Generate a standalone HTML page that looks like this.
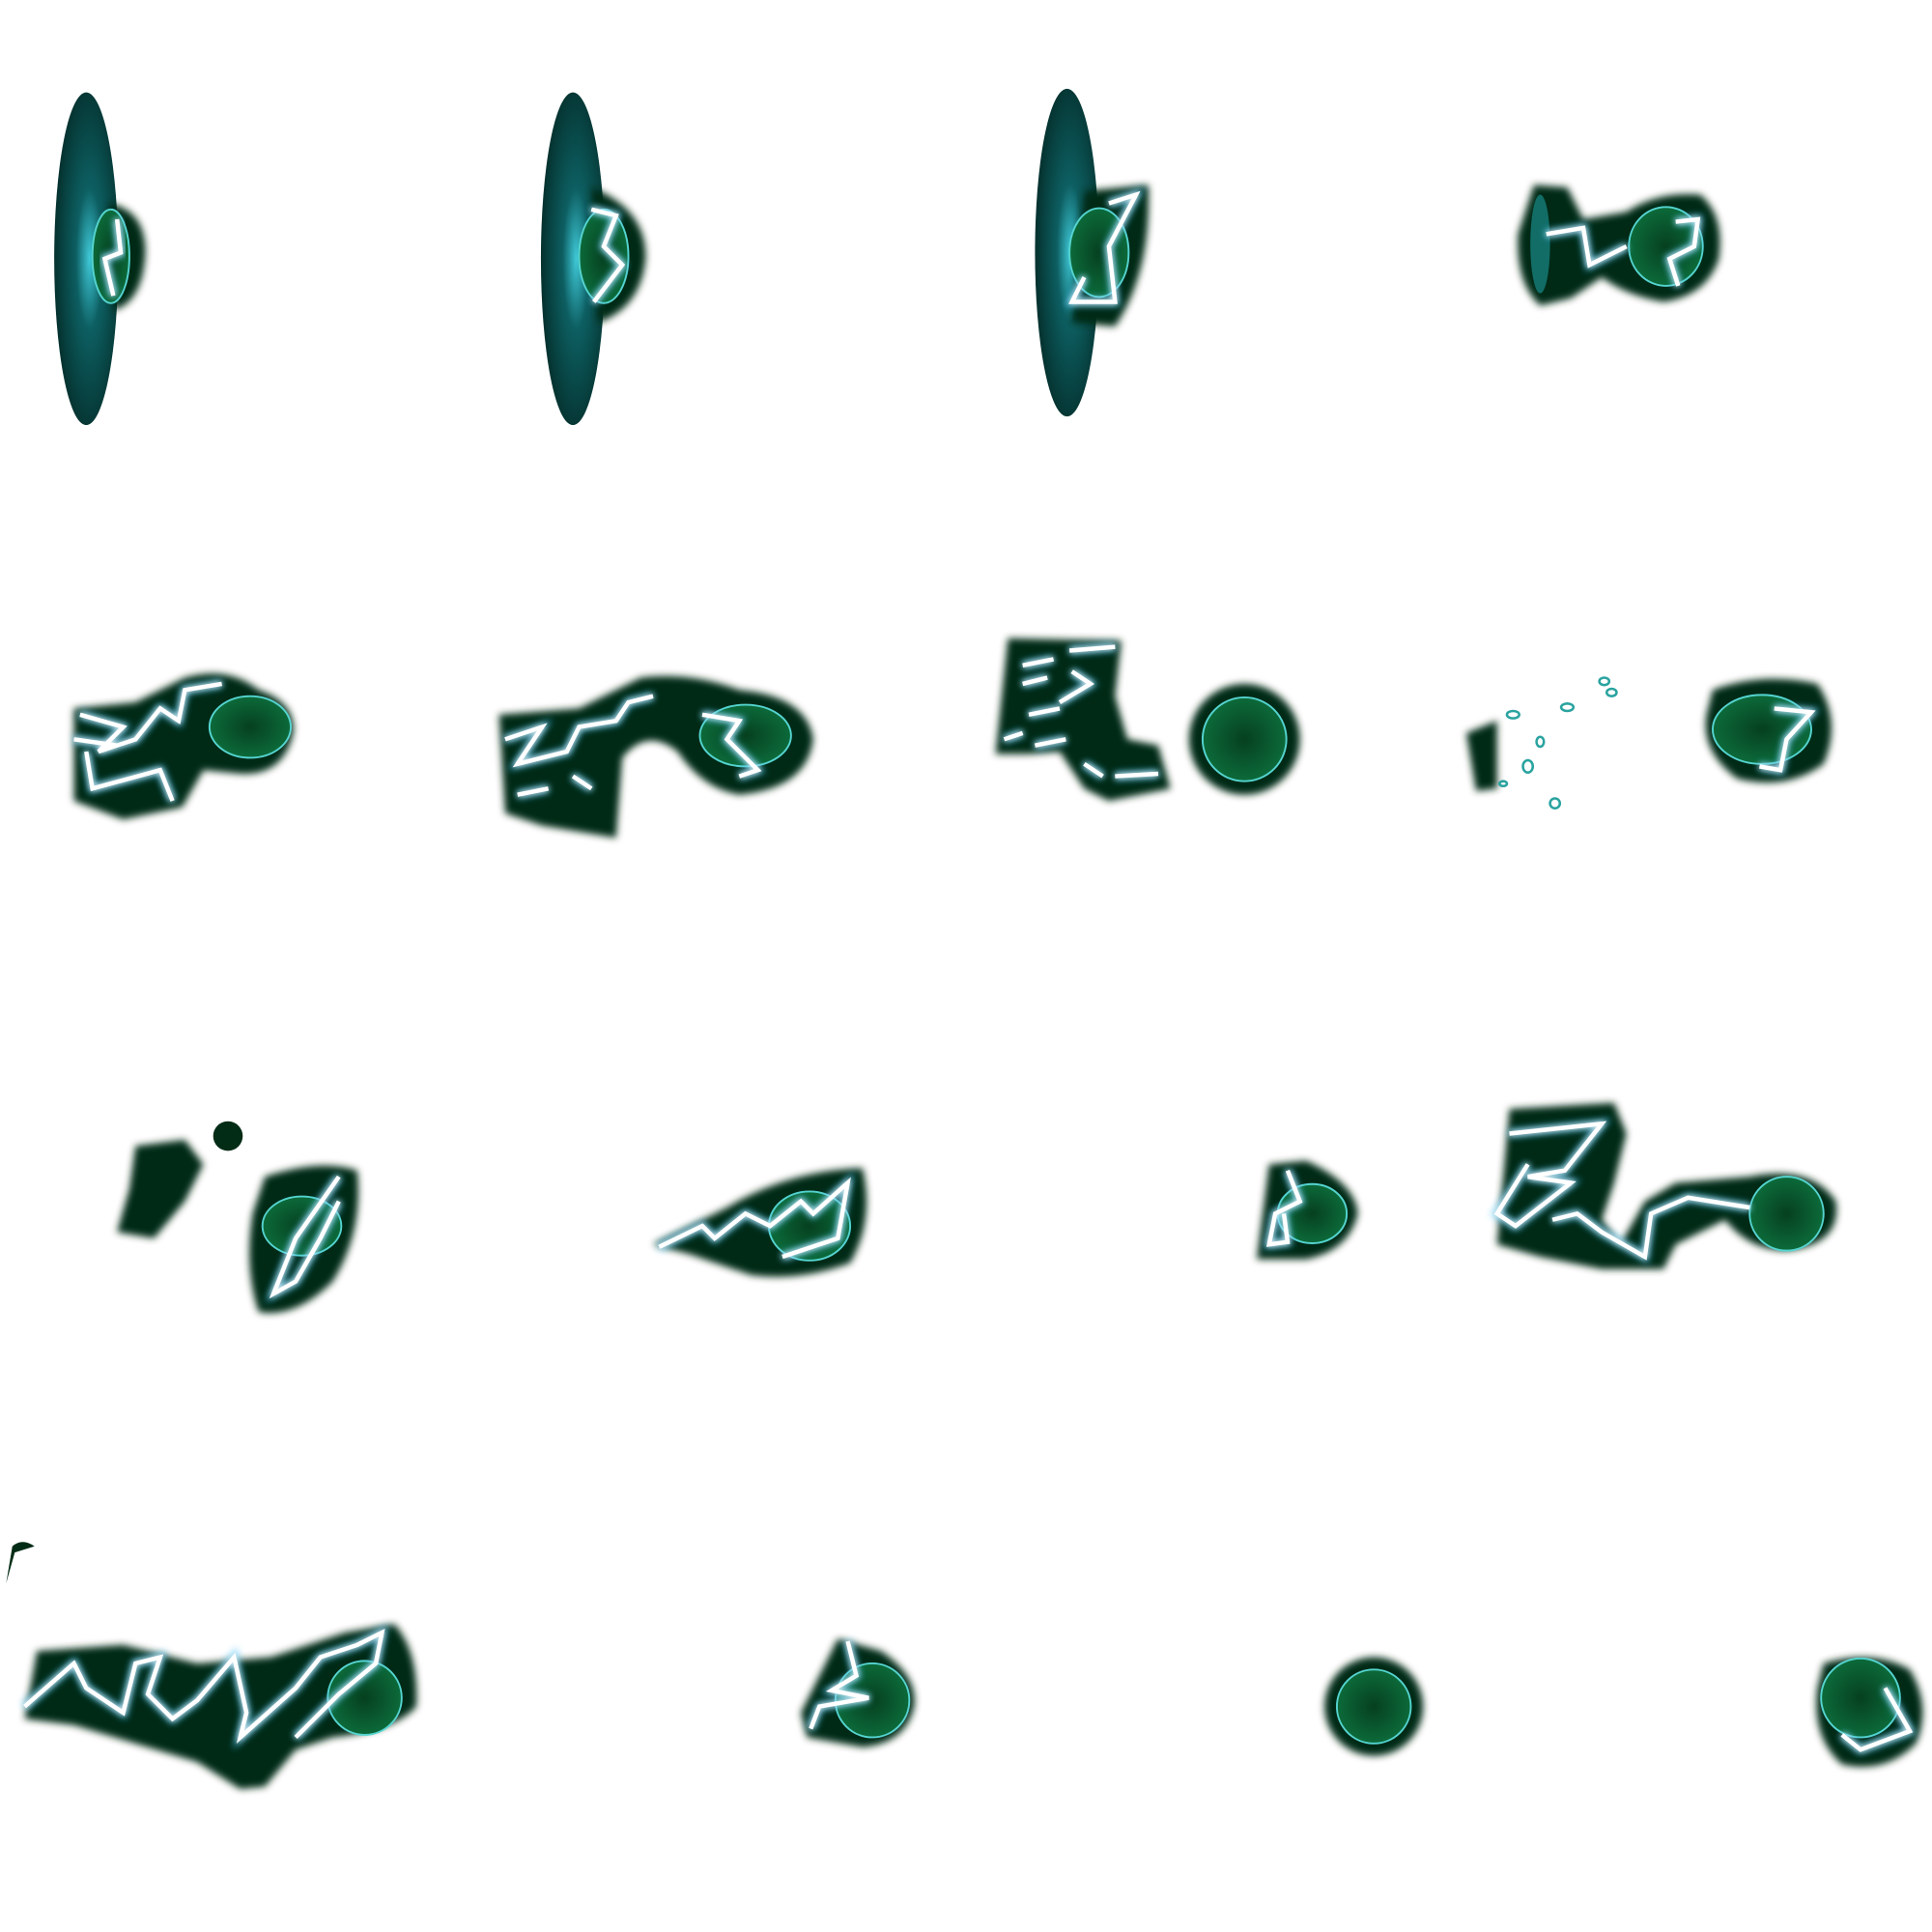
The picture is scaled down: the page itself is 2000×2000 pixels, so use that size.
<!DOCTYPE html>
<html><head><meta charset="utf-8"><style>
html,body{margin:0;padding:0;background:#fff;}
svg{display:block;}
</style></head><body>
<svg width="2000" height="2000" viewBox="0 0 1568 1568" xmlns="http://www.w3.org/2000/svg">
<defs>
<filter id="blur" x="-30%" y="-30%" width="160%" height="160%"><feGaussianBlur stdDeviation="3"/></filter>
<filter id="glow" x="-30%" y="-30%" width="160%" height="160%"><feGaussianBlur stdDeviation="2.5" result="b"/><feMerge><feMergeNode in="b"/><feMergeNode in="SourceGraphic"/></feMerge></filter>
<radialGradient id="disc" cx="0.55" cy="0.5" r="0.6"><stop offset="0" stop-color="#3fc9d8"/><stop offset="0.35" stop-color="#0d5f62"/><stop offset="1" stop-color="#032a26"/></radialGradient>
<radialGradient id="core" cx="0.5" cy="0.5" r="0.5"><stop offset="0" stop-color="#06401f"/><stop offset="1" stop-color="#0c6a3a"/></radialGradient>
</defs>
<style>
.blob{fill:#032c16;filter:url(#blur);}
.core{fill:url(#core);stroke:#55d4d0;stroke-width:1.5;}
.bolt{fill:none;stroke:#ffffff;stroke-width:3.5;stroke-linejoin:miter;filter:url(#glow);}
.boltc{fill:none;stroke:#39b8f0;stroke-width:7;opacity:.7;filter:url(#blur);}
</style>

<!-- Row 1 -->
<g>
<ellipse cx="70" cy="210" rx="26" ry="135" fill="url(#disc)"/>
<path class="blob" d="M88 165 Q118 170 118 205 Q116 245 92 252 Z"/>
<ellipse class="core" cx="90" cy="208" rx="15" ry="38"/>
<path class="boltc" d="M95 178 L98 205 L85 210 L92 240"/><path class="bolt" d="M95 178 L98 205 L85 210 L92 240"/>
</g>
<g>
<ellipse cx="465" cy="210" rx="26" ry="135" fill="url(#disc)"/>
<path class="blob" d="M480 152 Q525 170 524 210 Q520 250 485 262 Z"/>
<ellipse class="core" cx="490" cy="208" rx="20" ry="38"/>
<path class="boltc" d="M480 170 L500 175 L490 200 L505 215 L482 245"/><path class="bolt" d="M480 170 L500 175 L490 200 L505 215 L482 245"/>
</g>
<g>
<ellipse cx="866" cy="205" rx="26" ry="133" fill="url(#disc)"/>
<path class="blob" d="M880 155 L932 150 Q935 220 905 265 L870 262 Z"/>
<ellipse class="core" cx="892" cy="205" rx="24" ry="36"/>
<path class="boltc" d="M900 165 L922 158 L900 200 L905 245 L870 245 L880 225"/><path class="bolt" d="M900 165 L922 158 L900 200 L905 245 L870 245 L880 225"/>
</g>
<g>
<path class="blob" d="M1245 150 L1272 152 L1285 178 L1320 172 Q1345 155 1380 158 Q1400 175 1395 210 Q1385 240 1350 245 Q1320 240 1300 225 L1275 242 L1250 248 Q1230 230 1232 190 Z"/>
<ellipse cx="1250" cy="198" rx="8" ry="40" fill="#1a8a8a" opacity=".7"/>
<ellipse class="core" cx="1352" cy="200" rx="30" ry="32"/>
<path class="boltc" d="M1255 190 L1285 185 L1290 215 L1320 200 M1360 180 L1378 178 L1375 200 L1355 210 L1362 232"/><path class="bolt" d="M1255 190 L1285 185 L1290 215 L1320 200 M1360 180 L1378 178 L1375 200 L1355 210 L1362 232"/>
</g>

<!-- Row 2 -->
<g>
<path class="blob" d="M60 575 L110 570 L150 550 Q185 540 210 560 Q240 570 238 595 Q230 630 195 628 L165 625 L148 655 L100 665 L60 650 Z"/>
<ellipse class="core" cx="203" cy="590" rx="33" ry="25"/>
<path class="boltc" d="M65 580 L100 590 L80 610 L110 600 L130 575 L145 585 L150 560 L180 555 M70 610 L75 640 L130 625 L140 650 M60 600 L95 605"/><path class="bolt" d="M65 580 L100 590 L80 610 L110 600 L130 575 L145 585 L150 560 L180 555 M70 610 L75 640 L130 625 L140 650 M60 600 L95 605"/>
</g>
<g>
<path class="blob" d="M405 580 L470 575 L520 550 Q560 545 600 560 Q655 565 660 600 Q655 640 600 645 Q570 640 550 610 Q525 590 505 615 L500 680 L440 670 L410 660 Z"/>
<ellipse class="core" cx="605" cy="597" rx="37" ry="25"/>
<path class="boltc" d="M410 600 L440 590 L420 620 L460 610 L470 590 L500 585 L510 570 L530 565 M420 645 L445 640 M465 630 L480 640 M570 580 L600 585 L590 600 L615 625 L600 630"/><path class="bolt" d="M410 600 L440 590 L420 620 L460 610 L470 590 L500 585 L510 570 L530 565 M420 645 L445 640 M465 630 L480 640 M570 580 L600 585 L590 600 L615 625 L600 630"/>
</g>
<g>
<path class="blob" d="M818 518 L910 520 L905 565 L915 600 L940 605 L950 640 L900 650 L880 640 L860 610 L835 612 L808 612 Z"/>
<circle cx="1010" cy="600" r="45" fill="#032c16" filter="url(#blur)"/>
<circle class="core" cx="1010" cy="600" r="34"/>
<path class="boltc" d="M830 540 L855 535 M868 528 L905 525 M830 555 L850 550 M870 545 L885 555 L860 570 M835 580 L860 575 M815 600 L830 595 M880 620 L895 630 M905 630 L940 628 M840 605 L865 600"/><path class="bolt" d="M830 540 L855 535 M868 528 L905 525 M830 555 L850 550 M870 545 L885 555 L860 570 M835 580 L860 575 M815 600 L830 595 M880 620 L895 630 M905 630 L940 628 M840 605 L865 600"/>
</g>
<g>
<path class="blob" d="M1190 595 L1215 585 L1215 640 L1198 642 Z"/>
<g fill="none" stroke="#2aa3a0" stroke-width="2">
<ellipse cx="1228" cy="580" rx="5" ry="3"/><ellipse cx="1272" cy="574" rx="5" ry="3"/><ellipse cx="1302" cy="553" rx="4" ry="3"/><ellipse cx="1308" cy="562" rx="4" ry="3"/><ellipse cx="1250" cy="602" rx="3" ry="4"/><ellipse cx="1240" cy="622" rx="4" ry="5"/><ellipse cx="1262" cy="652" rx="4" ry="4"/><ellipse cx="1220" cy="636" rx="3" ry="2"/>
</g>
<path class="blob" d="M1390 560 Q1430 545 1475 555 Q1495 585 1480 620 Q1450 642 1410 632 Q1380 610 1385 580 Z"/>
<ellipse class="core" cx="1430" cy="592" rx="40" ry="28"/>
<path class="boltc" d="M1440 575 L1470 578 L1450 600 L1445 625 L1428 622"/><path class="bolt" d="M1440 575 L1470 578 L1450 600 L1445 625 L1428 622"/>
</g>

<!-- Row 3 -->
<g>
<path class="blob" d="M110 930 L150 925 L165 945 L150 975 L125 1005 L95 1000 L105 965 Z"/>
<circle cx="185" cy="922" r="12" fill="#032c16"/>
<path class="blob" d="M215 955 Q260 940 290 950 Q295 1000 270 1040 Q240 1070 210 1065 Q198 1030 205 985 Z"/>
<ellipse class="core" cx="245" cy="995" rx="32" ry="24"/>
<path class="boltc" d="M275 955 L240 1005 L222 1050 L240 1040 L260 1005 L275 975"/><path class="bolt" d="M275 955 L240 1005 L222 1050 L240 1040 L260 1005 L275 975"/>
</g>
<g>
<path class="blob" d="M530 1010 L590 980 Q640 950 700 948 Q710 990 690 1025 Q650 1040 610 1035 L560 1018 Z"/>
<ellipse class="core" cx="657" cy="995" rx="33" ry="28"/>
<path class="boltc" d="M535 1012 L570 995 L580 1005 L605 985 L625 995 L650 975 L660 985 L688 960 L680 1005 L635 1020"/><path class="bolt" d="M535 1012 L570 995 L580 1005 L605 985 L625 995 L650 975 L660 985 L688 960 L680 1005 L635 1020"/>
</g>
<g>
<path class="blob" d="M1030 945 L1060 942 Q1100 960 1102 985 Q1095 1015 1060 1022 L1020 1022 Z"/>
<ellipse class="core" cx="1065" cy="985" rx="28" ry="24"/>
<path class="boltc" d="M1045 950 L1055 975 L1035 985 L1030 1010 L1045 1008 L1042 985"/><path class="bolt" d="M1045 950 L1055 975 L1035 985 L1030 1010 L1045 1008 L1042 985"/>
</g>
<g>
<path class="blob" d="M1225 900 L1310 895 L1320 920 L1310 960 L1300 990 L1315 1010 L1335 975 L1360 960 L1420 955 Q1470 945 1490 975 Q1495 1010 1450 1015 Q1420 1015 1400 990 L1360 1010 L1350 1030 L1300 1030 L1250 1020 L1215 1010 Z"/>
<circle class="core" cx="1450" cy="985" r="30"/>
<path class="boltc" d="M1225 920 L1300 912 L1270 950 L1240 955 L1275 960 L1230 995 L1215 985 L1240 945 M1260 990 L1280 985 L1300 1000 L1335 1020 L1340 985 L1370 972 L1420 980"/><path class="bolt" d="M1225 920 L1300 912 L1270 950 L1240 955 L1275 960 L1230 995 L1215 985 L1240 945 M1260 990 L1280 985 L1300 1000 L1335 1020 L1340 985 L1370 972 L1420 980"/>
</g>

<!-- Row 4 -->
<g>
<path d="M10 1255 Q18 1248 28 1255 L12 1260 L5 1285 Z" fill="#032c16"/>
<path class="blob" d="M30 1340 L100 1335 L160 1350 L220 1345 L280 1325 L320 1318 Q340 1340 338 1385 Q320 1405 270 1410 L240 1420 L215 1450 L195 1452 L160 1430 L110 1415 L60 1400 L20 1395 Z"/>
<circle class="core" cx="296" cy="1378" r="30"/>
<path class="boltc" d="M20 1385 L60 1350 L70 1370 L100 1390 L110 1350 L130 1345 L120 1375 L140 1395 L160 1380 L190 1345 L200 1390 L195 1410 L240 1370 L260 1345 L290 1335 L310 1325 L305 1350 L275 1375 L240 1410"/><path class="bolt" d="M20 1385 L60 1350 L70 1370 L100 1390 L110 1350 L130 1345 L120 1375 L140 1395 L160 1380 L190 1345 L200 1390 L195 1410 L240 1370 L260 1345 L290 1335 L310 1325 L305 1350 L275 1375 L240 1410"/>
</g>
<g>
<path class="blob" d="M680 1330 L715 1340 Q745 1360 742 1385 Q735 1415 700 1418 L655 1410 L650 1390 Z"/>
<circle class="core" cx="708" cy="1380" r="30"/>
<path class="boltc" d="M688 1332 L695 1360 L675 1372 L705 1378 L665 1385 L658 1403"/><path class="bolt" d="M688 1332 L695 1360 L675 1372 L705 1378 L665 1385 L658 1403"/>
</g>
<g>
<circle cx="1115" cy="1385" r="40" fill="#032c16" filter="url(#blur)"/>
<circle class="core" cx="1115" cy="1385" r="30"/>
</g>
<g>
<path class="blob" d="M1480 1350 Q1520 1338 1550 1355 Q1568 1385 1555 1415 Q1530 1440 1495 1432 Q1470 1410 1475 1370 Z"/>
<circle class="core" cx="1510" cy="1378" r="32"/>
<path class="boltc" d="M1530 1370 L1550 1405 L1510 1420 L1495 1408"/><path class="bolt" d="M1530 1370 L1550 1405 L1510 1420 L1495 1408"/>
</g>
</svg>
</body></html>
